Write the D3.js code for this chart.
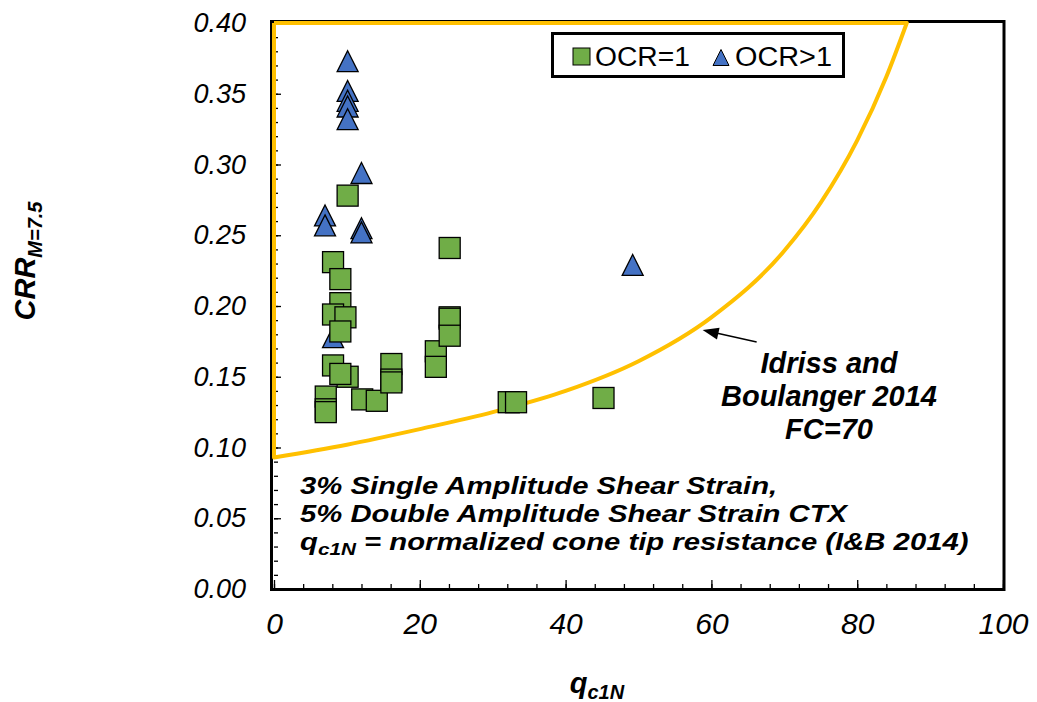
<!DOCTYPE html>
<html>
<head>
<meta charset="utf-8">
<script src="https://cdn.jsdelivr.net/npm/d3@7"></script>
<style>
  body { margin: 0; background: #fff; }
  text { font-family: "Liberation Sans", Arial, sans-serif; }
</style>
</head>
<body>
<svg id="chart" width="1037" height="702"></svg>
<script>
// OCR = 1 tests (green squares)
var ocr1Q   = [10.1, 24.1, 8.1, 9.1, 9.1, 8.1, 9.8, 9.1, 8.1, 10.1, 9.1, 7.1, 7.1, 7.1,
               12.1, 14.1, 16.1, 16.1, 16.1, 22.2, 22.2, 24.1, 24.1, 24.1, 32.2, 33.2, 45.2];
var ocr1Crr = [0.278, 0.241, 0.231, 0.219, 0.202, 0.194, 0.192, 0.182, 0.158, 0.150, 0.152, 0.136, 0.127, 0.125,
               0.134, 0.133, 0.159, 0.148, 0.146, 0.168, 0.157, 0.192, 0.191, 0.179, 0.132, 0.132, 0.135];

// OCR > 1 tests (blue triangles)
var ocrHiQ   = [10.1, 10.1, 10.1, 10.1, 10.1, 12.0, 7.0, 7.0, 12.0, 12.0, 8.1, 49.2];
var ocrHiCrr = [0.373, 0.352, 0.345, 0.341, 0.332, 0.294, 0.264, 0.257, 0.255, 0.252, 0.178, 0.229];

// Idriss and Boulanger 2014 (FC=70) boundary
var ibQ   = [0, 10, 20, 30, 40, 50, 60, 70, 75, 80, 84, 86.8];
var ibCrr = [0.093, 0.102, 0.113, 0.125, 0.140, 0.161, 0.192, 0.239, 0.273, 0.317, 0.362, 0.400];

var xTicks = [0, 20, 40, 60, 80, 100];
var yTicks = [0, 0.05, 0.10, 0.15, 0.20, 0.25, 0.30, 0.35, 0.40];

var svg = d3.select("#chart");

var x = d3.scaleLinear().domain([0, 100]).range([274, 1003]);
var y = d3.scaleLinear().domain([0, 0.4]).range([589, 23]);

// plot frame
svg.append("rect")
  .attr("x", 271.5).attr("y", 21.5)
  .attr("width", 1004 - 271.5).attr("height", 589.5 - 21.5)
  .attr("fill", "#fff")
  .attr("stroke", "#000")
  .attr("stroke-width", 3);

// minor ticks
var yMinor = d3.range(0, 41).map(function (i) { return i / 100; });
var xMinor = d3.range(0, 101, 4);

svg.append("g")
  .attr("transform", "translate(" + x(0) + ",0)")
  .call(d3.axisLeft(y).tickValues(yMinor).tickSize(-4).tickFormat(""))
  .call(function (g) { g.select(".domain").remove(); })
  .selectAll("line").attr("stroke", "#000").attr("stroke-width", 1.3);

svg.append("g")
  .attr("transform", "translate(0," + y(0) + ")")
  .call(d3.axisBottom(x).tickValues(xMinor).tickSize(-5).tickFormat(""))
  .call(function (g) { g.select(".domain").remove(); })
  .selectAll("line").attr("stroke", "#000").attr("stroke-width", 1.3);

// major ticks + labels
var yAxis = svg.append("g")
  .attr("transform", "translate(" + x(0) + ",0)")
  .call(d3.axisLeft(y).tickValues(yTicks).tickSize(-7).tickPadding(28).tickFormat(d3.format(".2f")));
yAxis.select(".domain").remove();
yAxis.selectAll("line").attr("stroke", "#000").attr("stroke-width", 1.3);
yAxis.selectAll("text")
  .attr("fill", "#000")
  .style("font-size", "27px")
  .style("font-style", "italic")
  .style("font-family", "'Liberation Sans', Arial, sans-serif");

var xAxis = svg.append("g")
  .attr("transform", "translate(0," + y(0) + ")")
  .call(d3.axisBottom(x).tickValues(xTicks).tickSize(-9).tickPadding(24).tickFormat(d3.format("d")));
xAxis.select(".domain").remove();
xAxis.selectAll("line").attr("stroke", "#000").attr("stroke-width", 1.3);
xAxis.selectAll("text")
  .attr("fill", "#000")
  .style("font-size", "30px")
  .style("font-style", "italic")
  .style("font-family", "'Liberation Sans', Arial, sans-serif");

// boundary curve: left edge, curve, then back along the top
var curveLine = d3.line()
  .x(function (d, i) { return x(ibQ[i]); })
  .y(function (d, i) { return y(ibCrr[i]); })
  .curve(d3.curveMonotoneX);
var curvePath = curveLine(ibQ);
var boundary = "M" + x(0) + "," + y(0.4) + "L" + curvePath.slice(1) +
               "L" + x(0) + "," + y(0.4);
svg.append("path")
  .attr("d", boundary)
  .attr("fill", "none")
  .attr("stroke", "#FFC000")
  .attr("stroke-width", 4)
  .attr("stroke-linejoin", "round");

// markers
var size = 21;
function triPath(cx, cy, s) {
  return "M" + cx + "," + (cy - s / 2) + "L" + (cx + s / 2) + "," + (cy + s / 2) +
         "L" + (cx - s / 2) + "," + (cy + s / 2) + "Z";
}

svg.append("g").selectAll("path")
  .data(ocrHiQ)
  .enter().append("path")
  .attr("d", function (d, i) { return triPath(x(d), y(ocrHiCrr[i]), size); })
  .attr("fill", "#4472C4")
  .attr("stroke", "#000")
  .attr("stroke-width", 1.3);

svg.append("g").selectAll("rect")
  .data(ocr1Q)
  .enter().append("rect")
  .attr("x", function (d) { return x(d) - size / 2; })
  .attr("y", function (d, i) { return y(ocr1Crr[i]) - size / 2; })
  .attr("width", size).attr("height", size)
  .attr("fill", "#70AD47")
  .attr("stroke", "#000")
  .attr("stroke-width", 1.3);

// legend
var legend = svg.append("g");
legend.append("rect")
  .attr("x", 552.5).attr("y", 33.5).attr("width", 291).attr("height", 43)
  .attr("fill", "#fff").attr("stroke", "#000").attr("stroke-width", 3);
legend.append("rect")
  .attr("x", 573).attr("y", 48).attr("width", 17).attr("height", 17)
  .attr("fill", "#70AD47").attr("stroke", "#000").attr("stroke-width", 1);
legend.append("path")
  .attr("d", triPath(721, 57.5, 16))
  .attr("fill", "#4472C4").attr("stroke", "#000").attr("stroke-width", 1);
legend.append("text")
  .attr("x", 595).attr("y", 66)
  .style("font-size", "27px")
  .attr("textLength", 95).attr("lengthAdjust", "spacingAndGlyphs")
  .text("OCR=1");
legend.append("text")
  .attr("x", 735).attr("y", 66)
  .style("font-size", "27px")
  .attr("textLength", 97).attr("lengthAdjust", "spacingAndGlyphs")
  .text("OCR>1");

// arrow pointing at the curve
var tipX = x(58.8), tipY = y(0.183);
var tailX = tipX + 54, tailY = tipY + 12;
var ang = Math.atan2(tipY - tailY, tipX - tailX);
var ah = 16, aw = 6;
svg.append("line")
  .attr("x1", tailX).attr("y1", tailY)
  .attr("x2", tipX - Math.cos(ang) * ah * 0.8).attr("y2", tipY - Math.sin(ang) * ah * 0.8)
  .attr("stroke", "#000").attr("stroke-width", 1.5);
svg.append("path")
  .attr("d", "M" + tipX + "," + tipY +
             "L" + (tipX - Math.cos(ang) * ah - Math.sin(ang) * aw) + "," + (tipY - Math.sin(ang) * ah + Math.cos(ang) * aw) +
             "L" + (tipX - Math.cos(ang) * ah + Math.sin(ang) * aw) + "," + (tipY - Math.sin(ang) * ah - Math.cos(ang) * aw) + "Z")
  .attr("fill", "#000");

// curve label
var ibLabel = svg.append("text")
  .attr("text-anchor", "middle")
  .style("font-size", "29px")
  .style("font-weight", "bold")
  .style("font-style", "italic");
ibLabel.append("tspan").attr("x", 829).attr("y", 373).text("Idriss and");
ibLabel.append("tspan").attr("x", 829).attr("y", 406).text("Boulanger 2014");
ibLabel.append("tspan").attr("x", 829).attr("y", 439).text("FC=70");

// notes
var notes = svg.append("g").attr("transform", "translate(300,494) scale(1.22,1)");
var noteText = notes.append("text")
  .style("font-size", "24px")
  .style("font-weight", "bold")
  .style("font-style", "italic");
noteText.append("tspan").attr("x", 0).attr("y", 0).text("3% Single Amplitude Shear Strain,");
noteText.append("tspan").attr("x", 0).attr("y", 28).text("5% Double Amplitude Shear Strain CTX");
var l3 = notes.append("text")
  .attr("x", 0).attr("y", 56)
  .style("font-size", "24px")
  .style("font-weight", "bold")
  .style("font-style", "italic");
l3.append("tspan").text("q");
l3.append("tspan").attr("dy", 5).style("font-size", "17px").text("c1N");
l3.append("tspan").attr("dy", -5).text(" = normalized cone tip resistance (I&B 2014)");

// axis titles
var xTitle = svg.append("text")
  .attr("x", 597).attr("y", 693)
  .attr("text-anchor", "middle")
  .style("font-weight", "bold")
  .style("font-style", "italic");
xTitle.append("tspan").style("font-size", "29px").text("q");
xTitle.append("tspan").attr("dy", 6).style("font-size", "20px").text("c1N");

var yTitle = svg.append("text")
  .attr("transform", "translate(35,261) rotate(-90)")
  .attr("text-anchor", "middle")
  .style("font-weight", "bold")
  .style("font-style", "italic");
yTitle.append("tspan").style("font-size", "29px").text("CRR");
yTitle.append("tspan").attr("dy", 7).style("font-size", "20px").text("M=7.5");
</script>
</body>
</html>
